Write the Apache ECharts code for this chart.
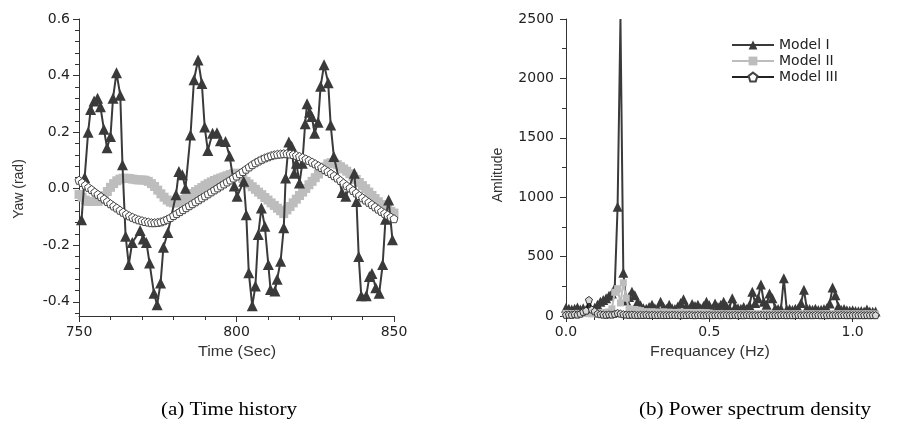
<!DOCTYPE html>
<html>
<head>
<meta charset="utf-8">
<script src="https://cdn.jsdelivr.net/npm/echarts@6/dist/echarts.min.js"></script>
<style>
  html, body { margin: 0; padding: 0; background: #ffffff; }
  #chart { width: 897px; height: 437px; }
</style>
</head>
<body>
<div id="chart"></div>
<script>
// ---- (a) Time history: yaw response ----
// Model I is sampled irregularly, so it keeps its own time stamps.
const yawTimeModelI = [750.8, 751.8, 752.9, 753.7, 754.8, 755.9, 756.8, 757.9, 758.9, 760.0,
  760.8, 761.9, 763.1, 763.8, 764.8, 765.8, 766.9, 769.4, 770.4, 771.4,
  772.4, 773.8, 774.8, 775.9, 776.8, 778.2, 780.8, 781.7, 782.8, 783.8,
  785.4, 786.5, 787.8, 789.0, 789.9, 790.9, 792.4, 793.8, 794.9, 796.5,
  797.8, 799.3, 800.2, 802.3, 803.1, 803.9, 805.0, 806.0, 806.9, 807.9,
  809.0, 810.1, 810.8, 812.2, 812.9, 814.0, 815.0, 815.6, 816.6, 817.5,
  818.3, 819.0, 820.0, 820.9, 821.8, 822.4, 823.2, 823.9, 824.8, 825.9,
  826.7, 827.8, 829.1, 829.9, 830.9, 833.5, 834.7, 837.4, 838.1, 838.8,
  839.6, 841.2, 842.2, 843.0, 844.2, 845.3, 846.4, 847.3, 848.3, 849.5];
const yawModelI = [-0.11, 0.04, 0.20, 0.28, 0.31, 0.32, 0.29, 0.21, 0.145, 0.185,
  0.32, 0.41, 0.33, 0.085, -0.168, -0.268, -0.19, -0.148, -0.178, -0.19,
  -0.263, -0.37, -0.41, -0.333, -0.207, -0.155, -0.021, 0.061, 0.049, 0.002,
  0.19, 0.385, 0.455, 0.372, 0.218, 0.135, 0.196, 0.198, 0.17, 0.167,
  0.116, 0.01, -0.027, 0.026, -0.092, -0.297, -0.414, -0.344, -0.162, -0.068,
  -0.133, -0.268, -0.356, -0.362, -0.32, -0.256, -0.138, 0.038, 0.165, 0.15,
  0.055, 0.09, 0.02, 0.09, 0.23, 0.30, 0.27, 0.255, 0.196, 0.235,
  0.362, 0.438, 0.375, 0.225, 0.114, -0.013, -0.027, 0.055, -0.045, -0.24,
  -0.378, -0.378, -0.31, -0.30, -0.35, -0.37, -0.268, -0.108, -0.04, -0.18];

// Models II and III: one sample per second from 750 s to 850 s.
const yawStart = 750;
const yawStep = 1;
const yawModelII = [-0.02, -0.03, -0.04, -0.045, -0.045, -0.045, -0.045, -0.04, -0.025, -0.01,
  0.005, 0.018, 0.028, 0.034, 0.037, 0.037, 0.036, 0.034, 0.032, 0.031,
  0.031, 0.03, 0.026, 0.018, 0.008, -0.005, -0.018, -0.03, -0.04, -0.047,
  -0.05, -0.05, -0.046, -0.038, -0.03, -0.024, -0.017, -0.01, -0.003, 0.004,
  0.012, 0.018, 0.024, 0.029, 0.034, 0.038, 0.042, 0.046, 0.05, 0.053,
  0.055, 0.045, 0.036, 0.026, 0.017, 0.007, -0.002, -0.012, -0.021, -0.031,
  -0.04, -0.05, -0.059, -0.069, -0.078, -0.088, -0.075, -0.063, -0.05, -0.037,
  -0.024, -0.012, 0.001, 0.014, 0.026, 0.039, 0.052, 0.065, 0.077, 0.088,
  0.092, 0.09, 0.085, 0.078, 0.07, 0.062, 0.053, 0.043, 0.033, 0.022,
  0.011, 0.0, -0.012, -0.024, -0.035, -0.046, -0.056, -0.065, -0.073, -0.08,
  -0.086];
const yawModelIII = [0.03, 0.022, 0.013, 0.005, -0.003, -0.012, -0.02, -0.028, -0.036, -0.045,
  -0.053, -0.061, -0.068, -0.076, -0.083, -0.09, -0.096, -0.101, -0.106, -0.11,
  -0.113, -0.116, -0.118, -0.12, -0.12, -0.119, -0.117, -0.113, -0.108, -0.102,
  -0.095, -0.088, -0.081, -0.074, -0.067, -0.06, -0.053, -0.046, -0.039, -0.032,
  -0.025, -0.018, -0.011, -0.004, 0.003, 0.01, 0.017, 0.024, 0.031, 0.038,
  0.045, 0.053, 0.061, 0.069, 0.077, 0.085, 0.092, 0.098, 0.104, 0.109,
  0.113, 0.117, 0.12, 0.122, 0.123, 0.124, 0.124, 0.123, 0.121, 0.118,
  0.114, 0.11, 0.105, 0.1, 0.094, 0.088, 0.081, 0.075, 0.068, 0.061,
  0.054, 0.046, 0.038, 0.029, 0.02, 0.011, 0.003, -0.006, -0.015, -0.024,
  -0.032, -0.04, -0.048, -0.056, -0.064, -0.072, -0.08, -0.087, -0.093, -0.1,
  -0.106];

// ---- (b) Power spectrum density: amplitude every 0.01 Hz from 0 Hz ----
const psdStep = 0.01;
const psdModelI = [70, 62, 55, 60, 72, 55, 65, 50, 60, 48,
  70, 95, 120, 135, 150, 170, 190, 235, 920, 2500,
  365, 130, 160, 205, 175, 120, 90, 65, 60, 75,
  95, 65, 58, 120, 75, 62, 95, 65, 58, 80,
  110, 140, 85, 62, 100, 85, 95, 65, 85, 120,
  90, 62, 105, 75, 95, 120, 80, 65, 150, 78,
  65, 60, 75, 58, 90, 205, 110, 150, 265, 120,
  95, 190, 150, 65, 58, 60, 317, 55, 58, 50,
  60, 65, 110, 220, 65, 58, 52, 60, 50, 52,
  58, 65, 105, 240, 175, 80, 52, 58, 48, 45,
  48, 42, 40, 42, 38, 55, 38, 35, 38];
const psdModelII = [22, 20, 18, 20, 22, 18, 20, 22, 20, 18, 22,
  25, 25, 30, 30, 35,
  60, 200, 230, 110, 280, 150, 60, 55, 55, 50, 45,
  35, 35, 32, 35, 33, 30, 32, 35, 30, 32, 30, 28, 30, 32, 30, 28, 30, 28, 26, 28, 30, 26, 28, 25,
  18, 17, 19, 18, 16, 18, 17, 19, 18, 17,
  18, 16, 17, 19, 18, 17, 16, 18, 17, 19,
  18, 17, 16, 18, 17, 19, 18, 16, 17, 18,
  17, 19, 18, 16, 17, 18, 17, 16, 18, 17,
  19, 18, 16, 17, 18, 17, 16, 18, 17, 16,
  18, 17, 16, 17, 18, 16, 17, 16];
const psdModelIII = [10, 12, 10, 15, 12, 20, 35, 45, 135, 55, 40, 20, 15,
  12, 10, 14, 12, 18, 25, 20, 15, 12, 10, 12, 10, 8, 10, 9, 11, 8, 10, 9, 8,
  10, 8, 9, 8, 10, 9, 8, 7, 9, 8, 10, 8, 7, 9, 8, 7, 8, 9, 7, 8,
  8, 7, 9, 8, 7, 8, 9, 7, 8, 7, 9, 8, 7, 8, 7, 9, 8, 7, 8, 7,
  8, 7, 9, 8, 7, 8, 7, 8, 9, 7, 8, 7, 8, 7, 9, 8, 7, 8, 7, 8,
  7, 8, 7, 9, 8, 7, 8, 7, 8, 7, 8, 7, 8, 7, 8, 7];

// Tick positions
const yawMajorTicks = [-0.4, -0.2, 0.0, 0.2, 0.4, 0.6];
const yawMinorTicks = [-0.44, -0.36, -0.32, -0.28, -0.24, -0.16, -0.12, -0.08, -0.04,
  0.04, 0.08, 0.12, 0.16, 0.24, 0.28, 0.32, 0.36, 0.44, 0.48, 0.52, 0.56];
const freqMajorTicks = [0.0, 0.5, 1.0];
const freqMinorTicks = [0.1, 0.2, 0.3, 0.4, 0.6, 0.7, 0.8, 0.9];

// Build [x, y] pairs
const pairs = (xs, ys) => ys.map((v, i) => [xs[i], v]);
const uniform = (start, step, ys) => ys.map((v, i) => [+(start + i * step).toFixed(3), v]);

const AXIS = '#333333';
const DARK = '#3a3a3a';
const LIGHT = '#bdbdbd';
const PENTAGON = 'path://M50,0 L100,38 L81,100 L19,100 L0,38 Z';
const tickFont = { fontFamily: 'DejaVu Sans', fontSize: 14, color: '#222' };

const baseAxis = {
  axisLine: { show: true, onZero: false, lineStyle: { color: AXIS, width: 1 } },
  splitLine: { show: false },
  axisPointer: { show: false }
};

const chart = echarts.init(document.getElementById('chart'), null, { renderer: 'canvas' });

chart.setOption({
  animation: false,
  backgroundColor: '#ffffff',
  legend: {
    data: ['Model I', 'Model II', 'Model III'],
    orient: 'vertical',
    left: 726,
    top: 33,
    itemWidth: 42,
    itemHeight: 11,
    itemGap: 2,
    textStyle: { fontFamily: 'DejaVu Sans', fontSize: 14, color: '#222' },
    selectedMode: false
  },
  grid: [
    { left: 79, top: 19, width: 315, height: 297 },
    { left: 566, top: 19, width: 311, height: 297 }
  ],
  xAxis: [
    Object.assign({}, baseAxis, {
      type: 'value', gridIndex: 0, min: 750, max: 850, interval: 50,
      axisTick: { show: true, length: 6, lineStyle: { color: AXIS } },
      minorTick: { show: true, splitNumber: 5, length: 4, lineStyle: { color: AXIS } },
      minorSplitLine: { show: false },
      axisLabel: Object.assign({ margin: 9 }, tickFont)
    }),
    Object.assign({}, baseAxis, {
      type: 'value', gridIndex: 1, position: 'bottom', min: 0, max: 1.085,
      axisTick: { show: true, length: 6, customValues: freqMajorTicks, lineStyle: { color: AXIS } },
      axisLabel: Object.assign({ margin: 9, customValues: freqMajorTicks, formatter: v => v.toFixed(1) }, tickFont)
    }),
    {
      type: 'value', gridIndex: 1, position: 'bottom', min: 0, max: 1.085,
      axisLine: { show: false, onZero: false },
      splitLine: { show: false },
      axisLabel: { show: false },
      axisTick: { show: true, length: 4, customValues: freqMinorTicks, lineStyle: { color: AXIS } }
    }
  ],
  yAxis: [
    Object.assign({}, baseAxis, {
      type: 'value', gridIndex: 0, position: 'left', min: -0.45, max: 0.6,
      axisTick: { show: true, length: 6, customValues: yawMajorTicks, lineStyle: { color: AXIS } },
      axisLabel: Object.assign({ margin: 9, customValues: yawMajorTicks, formatter: v => v.toFixed(1) }, tickFont)
    }),
    {
      type: 'value', gridIndex: 0, position: 'left', min: -0.45, max: 0.6,
      axisLine: { show: false, onZero: false },
      splitLine: { show: false },
      axisLabel: { show: false },
      axisTick: { show: true, length: 4, customValues: yawMinorTicks, lineStyle: { color: AXIS } }
    },
    Object.assign({}, baseAxis, {
      type: 'value', gridIndex: 1, position: 'left', min: 0, max: 2500, interval: 500,
      axisTick: { show: true, length: 6, lineStyle: { color: AXIS } },
      minorTick: { show: true, splitNumber: 2, length: 4, lineStyle: { color: AXIS } },
      minorSplitLine: { show: false },
      axisLabel: Object.assign({ margin: 12, formatter: v => String(v) }, tickFont)
    })
  ],
  series: [
    // Time history (listed first so the legend takes its icons from these)
    {
      name: 'Model I', type: 'line', xAxisIndex: 0, yAxisIndex: 0,
      data: pairs(yawTimeModelI, yawModelI),
      symbol: 'triangle', symbolSize: 11,
      lineStyle: { color: DARK, width: 2 },
      itemStyle: { color: DARK },
      z: 3
    },
    {
      name: 'Model II', type: 'line', xAxisIndex: 0, yAxisIndex: 0,
      data: uniform(yawStart, yawStep, yawModelII),
      symbol: 'rect', symbolSize: 9,
      lineStyle: { color: LIGHT, width: 4 },
      itemStyle: { color: LIGHT },
      z: 2
    },
    {
      name: 'Model III', type: 'line', xAxisIndex: 0, yAxisIndex: 0,
      data: uniform(yawStart, yawStep, yawModelIII),
      symbol: PENTAGON, symbolSize: 8,
      lineStyle: { color: '#222222', width: 1 },
      itemStyle: { color: '#ffffff', borderColor: '#444444', borderWidth: 1 },
      z: 4
    },
    // Power spectrum density
    {
      name: 'Model I', type: 'line', xAxisIndex: 1, yAxisIndex: 2,
      data: uniform(0, psdStep, psdModelI),
      symbol: 'triangle',
      symbolSize: v => (v[1] > 2000 ? 0 : 10),
      lineStyle: { color: DARK, width: 2 },
      itemStyle: { color: DARK },
      z: 2
    },
    {
      name: 'Model II', type: 'line', xAxisIndex: 1, yAxisIndex: 2,
      data: uniform(0, psdStep, psdModelII),
      symbol: 'rect', symbolSize: 7,
      lineStyle: { color: LIGHT, width: 2 },
      itemStyle: { color: LIGHT },
      z: 3
    },
    {
      name: 'Model III', type: 'line', xAxisIndex: 1, yAxisIndex: 2,
      data: uniform(0, psdStep, psdModelIII),
      symbol: PENTAGON, symbolSize: 7,
      lineStyle: { color: '#111111', width: 2 },
      itemStyle: { color: '#d8d8d8', borderColor: '#333333', borderWidth: 1 },
      z: 4
    }
  ],
  graphic: [
    { type: 'text', x: 237, y: 352, scaleX: 1.15,
      style: { text: 'Time (Sec)', fontFamily: 'Liberation Sans', fontSize: 14, fill: '#333', align: 'center', verticalAlign: 'middle' } },
    { type: 'text', x: 19, y: 189, rotation: Math.PI / 2,
      style: { text: 'Yaw (rad)', fontFamily: 'Liberation Sans', fontSize: 14, fill: '#333', align: 'center', verticalAlign: 'middle' } },
    { type: 'text', x: 710, y: 352, scaleX: 1.15,
      style: { text: 'Frequancey (Hz)', fontFamily: 'Liberation Sans', fontSize: 14, fill: '#333', align: 'center', verticalAlign: 'middle' } },
    { type: 'text', x: 498, y: 175, rotation: Math.PI / 2,
      style: { text: 'Amlitude', fontFamily: 'Liberation Sans', fontSize: 14, fill: '#333', align: 'center', verticalAlign: 'middle' } },
    { type: 'text', x: 229, y: 410, scaleX: 1.17,
      style: { text: '(a) Time history', fontFamily: 'Liberation Serif', fontSize: 18, fill: '#000', align: 'center', verticalAlign: 'middle' } },
    { type: 'text', x: 755, y: 410, scaleX: 1.17,
      style: { text: '(b) Power spectrum density', fontFamily: 'Liberation Serif', fontSize: 18, fill: '#000', align: 'center', verticalAlign: 'middle' } }
  ]
});
</script>
</body>
</html>
